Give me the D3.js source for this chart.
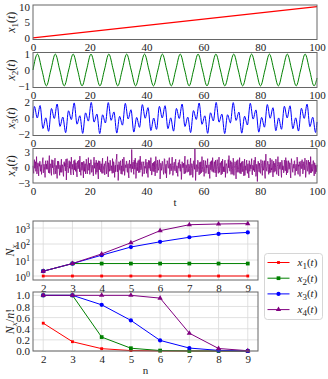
<!DOCTYPE html>
<html>
<head>
<meta charset="utf-8">
<script src="https://cdn.jsdelivr.net/npm/d3@7"></script>
<style>
body { margin: 0; background: #fff; }
text { font-family: "Liberation Serif", "DejaVu Serif", serif; fill: #222; }
</style>
</head>
<body>
<div id="chart"></div>
<script>
// ---- time series (top panels) ----
var x1T = [0, 100];
var x1V = [0, 10];

var x2T = [0, 1.571, 3.142, 4.712, 6.283, 7.854, 9.425, 10.996, 12.566, 14.137, 15.708, 17.279, 18.850, 20.420,
  21.991, 23.562, 25.133, 26.704, 28.274, 29.845, 31.416, 32.987, 34.558, 36.128, 37.699, 39.270, 40.841, 42.412,
  43.982, 45.553, 47.124, 48.695, 50.265, 51.836, 53.407, 54.978, 56.549, 58.119, 59.690, 61.261, 62.832, 64.403,
  65.973, 67.544, 69.115, 70.686, 72.257, 73.827, 75.398, 76.969, 78.540, 80.111, 81.681, 83.252, 84.823, 86.394,
  87.965, 89.535, 91.106, 92.677, 94.248, 95.819, 97.389, 98.960, 100];
var x2V = [0, 1, 0, -1, 0, 1, 0, -1, 0, 1, 0, -1, 0, 1, 0, -1, 0, 1, 0, -1, 0, 1, 0, -1, 0, 1, 0, -1, 0, 1, 0, -1,
  0, 1, 0, -1, 0, 1, 0, -1, 0, 1, 0, -1, 0, 1, 0, -1, 0, 1, 0, -1, 0, 1, 0, -1, 0, 1, 0, -1, 0, 1, 0, -1, -0.51];

var x3T = [0, 0.5, 1.5, 2.5, 3.5, 4.5, 5.5, 6.5, 7.5, 8.5, 9.5, 10.5, 11.5, 12.5, 13.5, 14.5, 15.5, 16.5, 17.5, 18.5, 19.5,
  20.5, 21.5, 22.5, 23.5, 24.5, 25.5, 26.5, 27.5, 28.5, 29.5, 30.5, 31.5, 32.5, 33.5, 34.5, 35.5, 36.5, 37.5, 38.5, 39.5,
  40.5, 41.5, 42.5, 43.5, 44.5, 45.5, 46.5, 47.5, 48.5, 49.5, 50.5, 51.5, 52.5, 53.5, 54.5, 55.5, 56.5, 57.5, 58.5, 59.5,
  60.5, 61.5, 62.5, 63.5, 64.5, 65.5, 66.5, 67.5, 68.5, 69.5, 70.5, 71.5, 72.5, 73.5, 74.5, 75.5, 76.5, 77.5, 78.5, 79.5,
  80.5, 81.5, 82.5, 83.5, 84.5, 85.5, 86.5, 87.5, 88.5, 89.5, 90.5, 91.5, 92.5, 93.5, 94.5, 95.5, 96.5, 97.5, 98.5, 99.5, 100];
var x3V = [0, 1.48, 0.00, 1.60, -1.35, 0.02, -1.71, 1.22, -0.06, 1.80, -1.08, 0.12, -1.88, 0.93, -0.20, 1.94, -0.79,
  0.29, -1.98, 0.66, -0.40, 2.00, -0.53, 0.51, -2.00, 0.41, -0.64, 1.98, -0.30, 0.78, -1.94, 0.21, -0.92, 1.88, -0.13,
  1.06, -1.81, 0.07, -1.20, 1.72, -0.03, 1.33, -1.61, 0.00, -1.46, 1.50, 0.00, 1.58, -1.37, 0.02, -1.69, 1.23, -0.06,
  1.79, -1.09, 0.11, -1.87, 0.95, -0.19, 1.93, -0.81, 0.28, -1.97, 0.67, -0.38, 2.00, -0.54, 0.50, -2.00, 0.42, -0.63,
  1.98, -0.31, 0.76, -1.95, 0.22, -0.90, 1.89, -0.14, 1.04, -1.82, 0.08, -1.18, 1.73, -0.03, 1.32, -1.63, 0.01, -1.45,
  1.51, 0.00, 1.57, -1.38, 0.02, -1.68, 1.25, -0.05, 1.78, -1.11, 0.10, -1.86, -0.51];

// noise: x4A sampled at t = 0, 0.25, 0.5 ...; x4B at t = 0.125, 0.375 ...
var x4Step = 0.25;
var x4A = [
  0.3,-1.2,1.5,0.4,-0.8,2.1,-0.5,0.9,-1.7,0.2,1.1,-0.3,-1.4,0.8,1.9,-0.9,0.1,-2.0,1.3,0.6,
  -0.4,1.0,-1.1,2.3,-0.2,0.7,-1.6,0.5,1.4,-0.7,-0.1,1.8,-1.3,0.3,-2.2,0.9,1.2,-0.6,0.4,-1.0,
  1.6,-0.3,0.2,-1.8,1.1,0.8,-0.5,-2.5,1.7,0.0,-0.9,1.3,0.5,-1.2,2.0,-0.4,0.6,-1.5,0.9,1.5,
  -0.8,0.3,-1.9,1.2,-0.1,0.7,2.2,-1.1,0.4,-0.6,1.0,-2.1,0.8,0.2,-1.3,1.6,-0.7,0.5,1.9,-0.2,
  -1.4,0.6,1.1,-0.9,0.1,-1.7,2.0,0.3,-0.5,1.4,-1.0,0.9,-2.3,0.4,1.2,-0.3,0.7,-1.2,1.8,-0.6,
  0.2,-1.5,1.0,0.5,-0.8,2.1,-1.9,0.6,-0.2,1.3,-0.7,0.0,1.7,-1.1,0.8,-2.0,0.4,1.5,2.6,-0.9,
  -2.6,1.1,-0.4,0.9,-1.3,0.3,1.6,-0.8,2.0,-1.6,0.5,-0.1,1.2,-1.0,0.7,-2.1,1.4,0.2,-0.6,3.5,
  -0.3,1.0,-1.4,0.6,1.8,-2.2,0.1,-0.7,1.3,-1.1,0.4,2.2,-0.5,0.8,-1.8,0.3,1.1,-0.9,-0.2,1.6,
  -1.2,0.5,-2.0,1.4,0.7,-0.4,1.9,-1.5,0.2,-0.8,1.0,-0.1,-1.7,2.1,0.6,-1.0,0.9,-0.3,1.5,-2.3,
  0.8,-0.6,1.2,0.1,-1.4,1.7,-0.9,0.4,-2.1,1.3,0.5,-0.2,1.9,-1.2,0.7,-0.5,2.0,-1.6,0.3,1.0,
  -0.7,1.6,-1.1,0.2,-1.8,0.9,1.4,-0.4,0.6,-2.4,1.1,-0.1,0.8,-1.3,2.2,-0.6,0.3,-1.0,1.5,-0.8,
  0.4,-1.6,1.8,-0.3,0.7,-2.0,1.2,0.1,3.7,-2.6,0.5,-0.9,1.4,-0.2,-1.5,1.0,0.6,-1.1,2.1,-0.4,
  0.9,-1.8,0.2,1.3,-0.7,-0.1,1.7,-1.3,0.5,-2.2,1.1,0.3,-0.8,1.9,-1.0,0.6,-0.4,1.4,-1.9,0.8,
  0.1,-1.2,2.0,-0.6,0.9,-1.5,0.4,1.6,-0.9,-0.3,1.2,-2.0,0.7,0.2,-1.1,1.5,2.3,-0.7,0.5,-1.4,
  1.0,-0.2,1.8,-1.6,0.3,0.8,-2.3,1.3,-0.5,0.6,-1.0,1.9,0.0,-1.3,1.1,-0.8,0.4,-1.7,1.6,0.2,
  -0.6,1.4,-1.2,0.7,-2.1,1.0,0.5,-0.3,1.7,-1.5,0.1,0.9,-0.9,2.0,-1.8,0.6,-2.8,1.2,-0.4,0.8,
  -1.1,1.5,0.3,-1.6,0.9,-0.2,1.3,-2.2,2.6,-0.7,0.4,1.1,-1.4,0.2,1.8,-1.0,-0.5,0.7,-1.9,1.2,
  0.5,-0.8,1.6,-1.3,0.1,2.1,-1.7,0.6,-0.4,1.0,-2.0,0.9,0.3,-1.1,1.4,-0.6,1.9,-1.5,0.2,-0.9,
  1.3,-0.3,0.8,-2.1,1.7,0.4,-1.0,0.6,1.2,-1.6,0.0,-0.7,2.0,-1.2,0.5,1.1,-1.8,0.9,-0.2,1.5,
  -1.3,0.7,-0.5,1.8,-2.0,0.3,1.0,-0.8,1.4,-1.4,0.2,2.1,-1.1,0.6,-0.3,1.3,-1.7,0.8,0.4,-0.9,
  0.5];
var x4B = [
  -0.6,0.8,-0.2,1.1,0.5,-1.3,0.4,-0.9,0.7,1.2,-0.8,0.5,-0.3,1.4,-1.1,0.6,-0.7,1.0,-0.4,0.2,
  1.3,-0.5,0.9,-1.2,0.3,-0.8,1.5,-0.1,0.6,-1.4,1.0,-0.6,0.4,-0.9,1.2,-0.3,0.8,-1.6,0.1,0.7,
  -1.0,0.5,-1.3,0.9,0.2,-0.7,1.6,-0.4,0.3,-1.1,0.8,-0.2,1.1,-1.5,0.6,0.0,-0.8,1.3,-0.5,0.4,
  0.9,-1.2,0.6,-0.3,1.4,-0.9,0.2,-1.6,1.0,0.3,-0.5,1.2,-0.8,0.7,-0.2,1.1,-1.3,0.5,-0.6,0.8,
  -0.3,1.5,-1.0,0.4,-0.7,1.1,-0.2,0.9,-1.4,0.6,0.1,-1.1,1.3,-0.5,0.8,-0.9,0.3,1.0,-1.2,0.2,
  0.7,-0.4,1.2,-1.3,0.5,-0.1,0.9,-0.8,1.4,-0.6,0.3,-1.2,0.6,1.1,-0.5,0.2,-0.9,1.6,-0.3,0.5,
  -1.1,0.8,-0.6,1.3,0.0,-1.4,0.7,-0.3,1.0,-0.9,0.4,1.2,-0.7,0.5,-1.5,0.9,-0.2,0.6,-1.0,1.1,
  0.3,-0.8,1.4,-0.4,0.6,-1.2,0.9,0.1,-0.6,1.5,-1.0,0.4,-0.3,1.1,-0.8,0.7,-1.3,0.2,0.9,-0.5,
  1.0,-1.1,0.4,-0.2,1.3,-0.7,0.5,-1.5,0.8,0.2,-0.9,1.2,-0.4,0.6,-1.1,1.4,-0.6,0.1,0.7,-1.3,
  0.5,-0.3,1.1,-0.9,0.2,1.6,-1.2,0.6,-0.5,0.9,-0.1,1.3,-1.4,0.4,-0.7,1.0,0.3,-1.0,0.8,-0.4,
  1.2,-0.6,0.3,-1.3,0.9,-0.2,1.5,-0.8,0.4,-1.1,0.7,0.0,-0.6,1.1,-1.2,0.5,-0.3,1.4,-0.9,0.6,
  -0.2,1.0,-1.5,0.7,0.3,-0.8,1.3,-0.4,0.9,-1.0,0.5,-0.7,1.2,-0.1,0.6,-1.3,1.1,-0.5,0.2,-0.9,
  1.4,-0.3,0.8,-1.2,0.4,1.0,-0.6,0.2,-1.4,0.9,-0.5,1.3,-0.8,0.3,-0.2,1.1,-1.1,0.6,-0.4,1.5,
  -0.7,0.4,-1.0,0.8,-0.3,1.2,-1.3,0.5,0.1,-0.9,1.4,-0.6,0.7,-1.2,0.3,-0.1,1.0,-0.8,1.3,-0.5,
  0.6,-1.4,0.9,-0.2,1.1,-0.7,0.4,-1.0,1.5,-0.4,0.2,-1.2,0.8,0.5,-0.9,1.2,-0.3,0.7,-1.6,0.3,
  1.0,-0.5,0.6,-1.1,1.3,-0.8,0.1,0.9,-1.3,0.4,-0.6,1.4,-0.2,0.8,-1.0,0.5,-0.4,1.1,-0.9,0.2,
  -1.2,0.7,-0.3,1.3,-0.6,0.4,-1.5,1.0,0.2,-0.8,1.2,-0.4,0.6,-1.1,0.9,-0.2,1.5,-0.7,0.3,-1.0,
  0.8,-0.1,1.2,-1.4,0.5,-0.6,1.0,-0.3,0.7,-1.2,1.4,-0.5,0.1,-0.9,1.1,-0.7,0.4,1.3,-1.1,0.6,
  -0.4,0.9,-1.3,0.3,1.0,-0.8,0.5,-0.2,1.3,-1.0,0.6,-0.5,1.1,-1.4,0.2,0.8,-0.6,1.2,-0.3,0.7,
  -0.9,1.1,-0.2,0.5,-1.2,1.4,-0.7,0.3,-0.4,1.0,-1.1,0.6,0.2,-0.8,1.3,-0.5,0.9,-1.3,0.4,-0.1];

var tTicks = [0, 20, 40, 60, 80, 100];

// ---- pattern counts (bottom panels) ----
var nVals = [2, 3, 4, 5, 6, 7, 8, 9];
var countX1 = [1, 1, 1, 1, 1, 1, 1, 1];
var countX2 = [2, 6, 6, 6, 6, 6, 6, 6];
var countX3 = [2, 6, 20, 65, 138, 265, 430, 530];
var countX4 = [2, 6, 24, 120, 685, 1610, 1790, 1880];
var ratioX1 = [0.5, 0.167, 0.042, 0.008, 0.0014, 0.0002, 0.0, 0.0];
var ratioX2 = [1.0, 1.0, 0.25, 0.05, 0.008, 0.001, 0.0002, 0.0];
var ratioX3 = [1.0, 1.0, 0.83, 0.55, 0.19, 0.053, 0.011, 0.0015];
var ratioX4 = [1.0, 1.0, 1.0, 1.0, 0.95, 0.32, 0.045, 0.005];
var logTicks = [1, 10, 100, 1000];
var ratioTicks = [0, 0.2, 0.4, 0.6, 0.8, 1.0];

var colors = ["#ff0000", "#008000", "#0000ff", "#800080"];

var W = 328, H = 379;
var svg = d3.select("#chart").append("svg")
  .attr("width", W).attr("height", H);

// math-ish label: parts like ["x", "_1", "(", "t", ")"], letters italic
function mathText(sel, parts) {
  var shifted = false;
  parts.forEach(function (p) {
    var ts = sel.append("tspan");
    if (p.charAt(0) == "_") {
      ts.text(p.slice(1)).attr("font-size", "9px").attr("dy", 3);
      if (/[a-z]/i.test(p.slice(1))) ts.style("font-style", "italic");
      shifted = true;
    } else {
      ts.text(p);
      if (shifted) { ts.attr("dy", -3); shifted = false; }
      if (/^[a-zA-Z]$/.test(p)) ts.style("font-style", "italic");
    }
  });
}

function frame(x0, y0, x1, y1) {
  svg.append("rect")
    .attr("x", x0).attr("y", y0)
    .attr("width", x1 - x0).attr("height", y1 - y0)
    .attr("fill", "none").attr("stroke", "#666").attr("stroke-width", 1);
}

function styleAxis(g) {
  g.select(".domain").remove();
  g.selectAll(".tick line").remove();
  g.selectAll("text").attr("font-size", "11px").attr("fill", "#222")
    .style("font-family", '"Liberation Serif", serif');
}

// ---- top four panels ----
var left = 33, right = 317;
var noisePts = x4A.map(function (v, j) { return [j * x4Step, v]; })
  .concat(x4B.map(function (v, j) { return [(j + 0.5) * x4Step, v]; }))
  .sort(function (a, b) { return a[0] - b[0]; });

var panels = [
  { top: 5, bottom: 39.5, dom: [-0.5, 10.5], ticks: [0, 5, 10], t: x1T, v: x1V, sub: "_1", w: 1.2 },
  { top: 52.5, bottom: 87.5, dom: [-1.1, 1.1], ticks: [-1, 0, 1], t: x2T, v: x2V, sub: "_2", w: 1 },
  { top: 100.5, bottom: 135.5, dom: [-2.25, 2.25], ticks: [-2, 0, 2], t: x3T, v: x3V, sub: "_3", w: 1 },
  { top: 148.5, bottom: 183, dom: [-3.1, 3.7], ticks: [-3, 0, 3], t: null, v: null, sub: "_4", w: 0.9 }
];

var xT = d3.scaleLinear().domain([0, 100]).range([left, right]);

panels.forEach(function (p, i) {
  var y = d3.scaleLinear().domain(p.dom).range([p.bottom, p.top]);

  var pts = p.t ? p.t.map(function (t, j) { return [t, p.v[j]]; }) : noisePts;

  var line = d3.line()
    .x(function (d) { return xT(d[0]); })
    .y(function (d) { return y(d[1]); });
  if (i == 1 || i == 2) line.curve(d3.curveMonotoneX);

  svg.append("path")
    .datum(pts)
    .attr("fill", "none")
    .attr("stroke", colors[i])
    .attr("stroke-width", p.w)
    .attr("stroke-opacity", i == 3 ? 0.85 : 1)
    .attr("stroke-linejoin", "round")
    .attr("d", line);

  svg.append("g")
    .attr("transform", "translate(0," + p.bottom + ")")
    .call(d3.axisBottom(xT).tickValues(tTicks).tickSize(0).tickPadding(4))
    .call(styleAxis);

  svg.append("g")
    .attr("transform", "translate(" + left + ",0)")
    .call(d3.axisLeft(y).tickValues(p.ticks).tickSize(0).tickPadding(3)
      .tickFormat(function (d) { return d < 0 ? "\u2212" + (-d) : d; }))
    .call(styleAxis);

  frame(left, p.top, right, p.bottom);

  var lab = svg.append("text")
    .attr("transform", "translate(15," + (p.top + p.bottom) / 2 + ") rotate(-90)")
    .attr("text-anchor", "middle")
    .attr("font-size", "12px");
  mathText(lab, ["x", p.sub, "(", "t", ")"]);
});

svg.append("text")
  .attr("x", xT(50)).attr("y", 206)
  .attr("text-anchor", "middle")
  .attr("font-size", "11px")
  .text("t");

// ---- bottom two panels ----
var bLeft = 33, bRight = 258;
var xn = d3.scaleLinear().domain([1.65, 9.35]).range([bLeft, bRight]);

var yLog = d3.scaleLog().domain([Math.pow(10, -0.25), Math.pow(10, 3.44)]).range([280, 221]);
var yRat = d3.scaleLinear().domain([0, 1.06]).range([351, 292]);

var counts = [countX1, countX2, countX3, countX4];
var ratios = [ratioX1, ratioX2, ratioX3, ratioX4];
var symbols = [
  d3.symbol().type(d3.symbolSquare).size(8),
  d3.symbol().type(d3.symbolSquare).size(14),
  d3.symbol().type(d3.symbolCircle).size(14),
  d3.symbol().type(d3.symbolTriangle).size(12)
];

function drawGrid(y, ticks, top, bottom) {
  var g = svg.append("g").attr("stroke", "#d9d9d9").attr("stroke-width", 0.8);
  g.selectAll("line.v").data(nVals).enter().append("line")
    .attr("x1", function (d) { return xn(d); }).attr("x2", function (d) { return xn(d); })
    .attr("y1", top).attr("y2", bottom);
  g.selectAll("line.h").data(ticks).enter().append("line")
    .attr("x1", bLeft).attr("x2", bRight)
    .attr("y1", function (d) { return y(d); }).attr("y2", function (d) { return y(d); });
}

function drawSeries(y, data) {
  data.forEach(function (vals, i) {
    var pts = nVals.map(function (n, j) { return [n, vals[j]]; });
    svg.append("path")
      .datum(pts)
      .attr("fill", "none")
      .attr("stroke", colors[i])
      .attr("stroke-width", 1)
      .attr("d", d3.line()
        .x(function (d) { return xn(d[0]); })
        .y(function (d) { return y(d[1]); }));
    svg.append("g")
      .selectAll("path")
      .data(pts)
      .enter()
      .append("path")
      .attr("transform", function (d) { return "translate(" + xn(d[0]) + "," + y(d[1]) + ")"; })
      .attr("d", symbols[i])
      .attr("fill", colors[i]);
  });
}

// counts, log scale
drawGrid(yLog, logTicks, 221, 280);
drawSeries(yLog, counts);
svg.append("g")
  .attr("transform", "translate(0,280)")
  .call(d3.axisBottom(xn).tickValues(nVals).tickSize(0).tickPadding(4))
  .call(styleAxis);
var ly = svg.append("g")
  .attr("transform", "translate(" + bLeft + ",0)")
  .call(d3.axisLeft(yLog).tickValues(logTicks).tickSize(0).tickPadding(3).tickFormat(""))
  .call(styleAxis);
ly.selectAll(".tick text").each(function (d) {
  var t = d3.select(this);
  t.text("10");
  t.append("tspan").attr("font-size", "8px").attr("dy", "-0.45em")
    .text(Math.round(Math.log10(d)));
});
ly.selectAll(".tick text").attr("x", -3).attr("dy", "0.4em").attr("text-anchor", "end");
frame(bLeft, 221, bRight, 280);

var lab1 = svg.append("text")
  .attr("transform", "translate(14,250.5) rotate(-90)")
  .attr("text-anchor", "middle")
  .attr("font-size", "12px");
mathText(lab1, ["N", "_x"]);

// ratios
drawGrid(yRat, ratioTicks, 292, 351);
drawSeries(yRat, ratios);
svg.append("g")
  .attr("transform", "translate(0,351)")
  .call(d3.axisBottom(xn).tickValues(nVals).tickSize(0).tickPadding(4))
  .call(styleAxis);
svg.append("g")
  .attr("transform", "translate(" + bLeft + ",0)")
  .call(d3.axisLeft(yRat).tickValues(ratioTicks).tickSize(0).tickPadding(3).tickFormat(d3.format(".1f")))
  .call(styleAxis);
frame(bLeft, 292, bRight, 351);

var lab2 = svg.append("text")
  .attr("transform", "translate(14,321.5) rotate(-90)")
  .attr("text-anchor", "middle")
  .attr("font-size", "12px");
mathText(lab2, ["N", "_x", "/", "n", "!"]);

svg.append("text")
  .attr("x", xn(5.5)).attr("y", 374)
  .attr("text-anchor", "middle")
  .attr("font-size", "11px")
  .text("n");

// ---- legend ----
var leg = svg.append("g").attr("transform", "translate(264.5,253.5)");
leg.append("rect")
  .attr("width", 58).attr("height", 66).attr("rx", 3)
  .attr("fill", "#fff").attr("stroke", "#ccc").attr("stroke-width", 0.8);
["_1", "_2", "_3", "_4"].forEach(function (s, i) {
  var yy = 9 + i * 15.7;
  leg.append("line")
    .attr("x1", 3).attr("x2", 25).attr("y1", yy).attr("y2", yy)
    .attr("stroke", colors[i]).attr("stroke-width", 1);
  leg.append("path")
    .attr("transform", "translate(14," + yy + ")")
    .attr("d", symbols[i])
    .attr("fill", colors[i]);
  var t = leg.append("text")
    .attr("x", 33).attr("y", yy).attr("dy", "0.3em")
    .attr("font-size", "11px");
  mathText(t, ["x", s, "(", "t", ")"]);
});
</script>
</body>
</html>
